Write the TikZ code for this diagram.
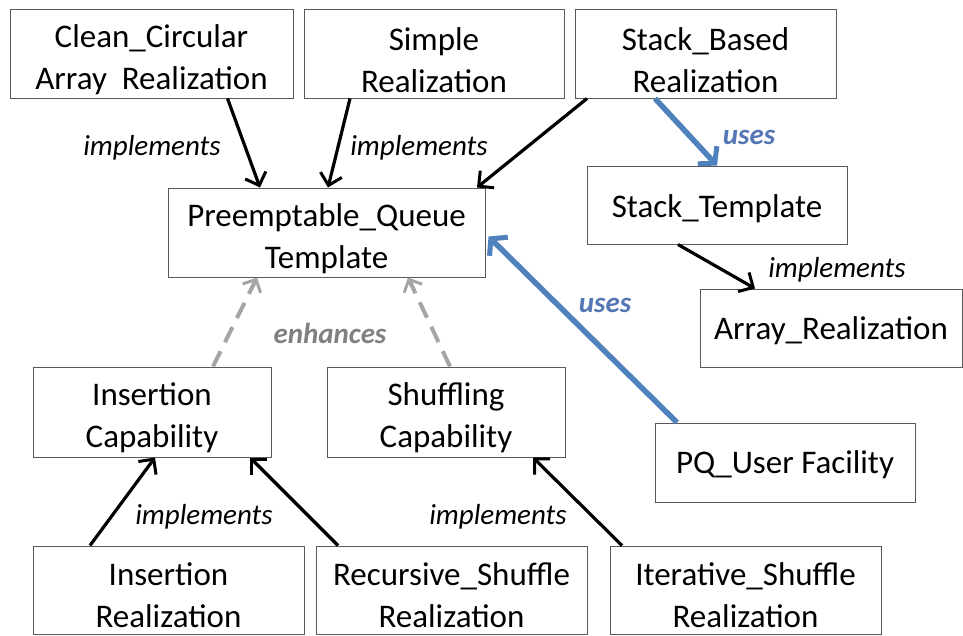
\documentclass[tikz,border=0pt]{standalone}
\usepackage{fontspec}
\setmainfont{Carlito}
\usetikzlibrary{arrows.meta}
\definecolor{ublue}{RGB}{79,129,189}
\definecolor{ulabel}{RGB}{84,118,180}
\definecolor{dgray}{RGB}{165,165,165}
\definecolor{lgray}{RGB}{128,128,128}
\newcommand\tdown[1]{\rule{0pt}{#1}}
\tikzset{
  box/.style={draw=black!65, line width=1pt, align=center, inner sep=0pt,
    font=\fontsize{33}{42}\selectfont},
  lbl/.style={font=\fontsize{29}{34}\selectfont\itshape, inner sep=0pt},
  ulbl/.style={font=\fontsize{29}{34}\selectfont\bfseries\itshape, text=ulabel, inner sep=0pt},
  elbl/.style={font=\fontsize{29}{34}\selectfont\bfseries\itshape, text=lgray, inner sep=0pt},
  impl/.style={draw=black, line width=3.2pt, -{Straight Barb[length=11pt,width=22pt,line width=3pt]}},
  useslink/.style={draw=ublue, line width=5.5pt, -{Straight Barb[length=11pt,width=26pt,line width=5pt]}},
  enh/.style={draw=dgray, line width=4pt, dash pattern=on 17pt off 10pt, -{Straight Barb[length=10pt,width=20pt,line width=3pt]}}
}
\begin{document}
\begin{tikzpicture}[x=1pt,y=-1pt]
\useasboundingbox (0,0) rectangle (963,635);
\clip (0,0) rectangle (963,635);
\node[box, minimum width=283pt, minimum height=89pt] (cc) at (151.5,53.5) {\tdown{36pt}Clean\_Circular\\Array~ Realization};
\node[box, minimum width=260pt, minimum height=89pt] (sr) at (434,53.5) {\tdown{36pt}Simple\\Realization};
\node[box, minimum width=261pt, minimum height=89pt] (sb) at (705.5,53.5) {\tdown{36pt}Stack\_Based\\Realization};
\node[box, minimum width=317pt, minimum height=89pt] (pq) at (326.5,232.5) {\tdown{36pt}Preemptable\_Queue\\Template};
\node[box, minimum width=260pt, minimum height=78pt] (st) at (717,205) {\tdown{30pt}Stack\_Template};
\node[box, minimum width=262pt, minimum height=78pt] (ar) at (831,328) {\tdown{28pt}Array\_Realization};
\node[box, minimum width=238pt, minimum height=90pt] (ic) at (152,412) {\tdown{35pt}Insertion\\Capability};
\node[box, minimum width=238pt, minimum height=90pt] (sc) at (446,412) {\tdown{35pt}Shuffling\\Capability};
\node[box, minimum width=260pt, minimum height=79pt] (pu) at (785,462.5) {\tdown{28pt}PQ\_User Facility};
\node[box, minimum width=271pt, minimum height=88pt] (ir) at (168.5,590) {\tdown{33pt}Insertion\\Realization};
\node[box, minimum width=271pt, minimum height=88pt] (rs) at (451.5,590) {\tdown{33pt}Recursive\_Shuffle\\Realization};
\node[box, minimum width=271pt, minimum height=88pt] (is) at (745.5,590) {\tdown{33pt}Iterative\_Shuffle\\Realization};

\draw[impl] ([xshift=76pt]cc.south) -- ([xshift=-66.5pt]pq.north);
\draw[impl] ([xshift=-84pt]sr.south) -- ([xshift=1.5pt]pq.north);
\draw[impl] ([xshift=-118.5pt]sb.south) -- ([xshift=150.5pt]pq.north);
\draw[useslink] ([xshift=-50.5pt]sb.south) -- (st.north);
\draw[impl] ([xshift=-39pt]st.south) -- ([xshift=-76pt]ar.north);
\draw[useslink] ([xshift=-108pt]pu.north) -- ([xshift=3pt,yshift=-4pt]pq.east);
\draw[enh] ([xshift=61pt]ic.north) -- ([xshift=-69.5pt]pq.south);
\draw[enh] ([xshift=4pt]sc.north) -- ([xshift=81.5pt]pq.south);
\draw[impl] ([xshift=-78.5pt]ir.north) -- ([xshift=3pt]ic.south);
\draw[impl] ([xshift=-113.5pt]rs.north) -- ([xshift=98pt]ic.south);
\draw[impl] ([xshift=-123.5pt]is.north) -- ([xshift=87pt]sc.south);

\node[lbl] (l1) at (152,148) {implements};
\node[lbl] (l2) at (419,148) {implements};
\node[ulbl] (u1) at (749,137) {uses};
\node[lbl] (l3) at (837,270) {implements};
\node[ulbl] (u2) at (605,305) {uses};
\node[elbl] (e1) at (330,333) {enhances};
\node[lbl] (l4) at (204,517) {implements};
\node[lbl] (l5) at (498,517) {implements};
\end{tikzpicture}
\end{document}
